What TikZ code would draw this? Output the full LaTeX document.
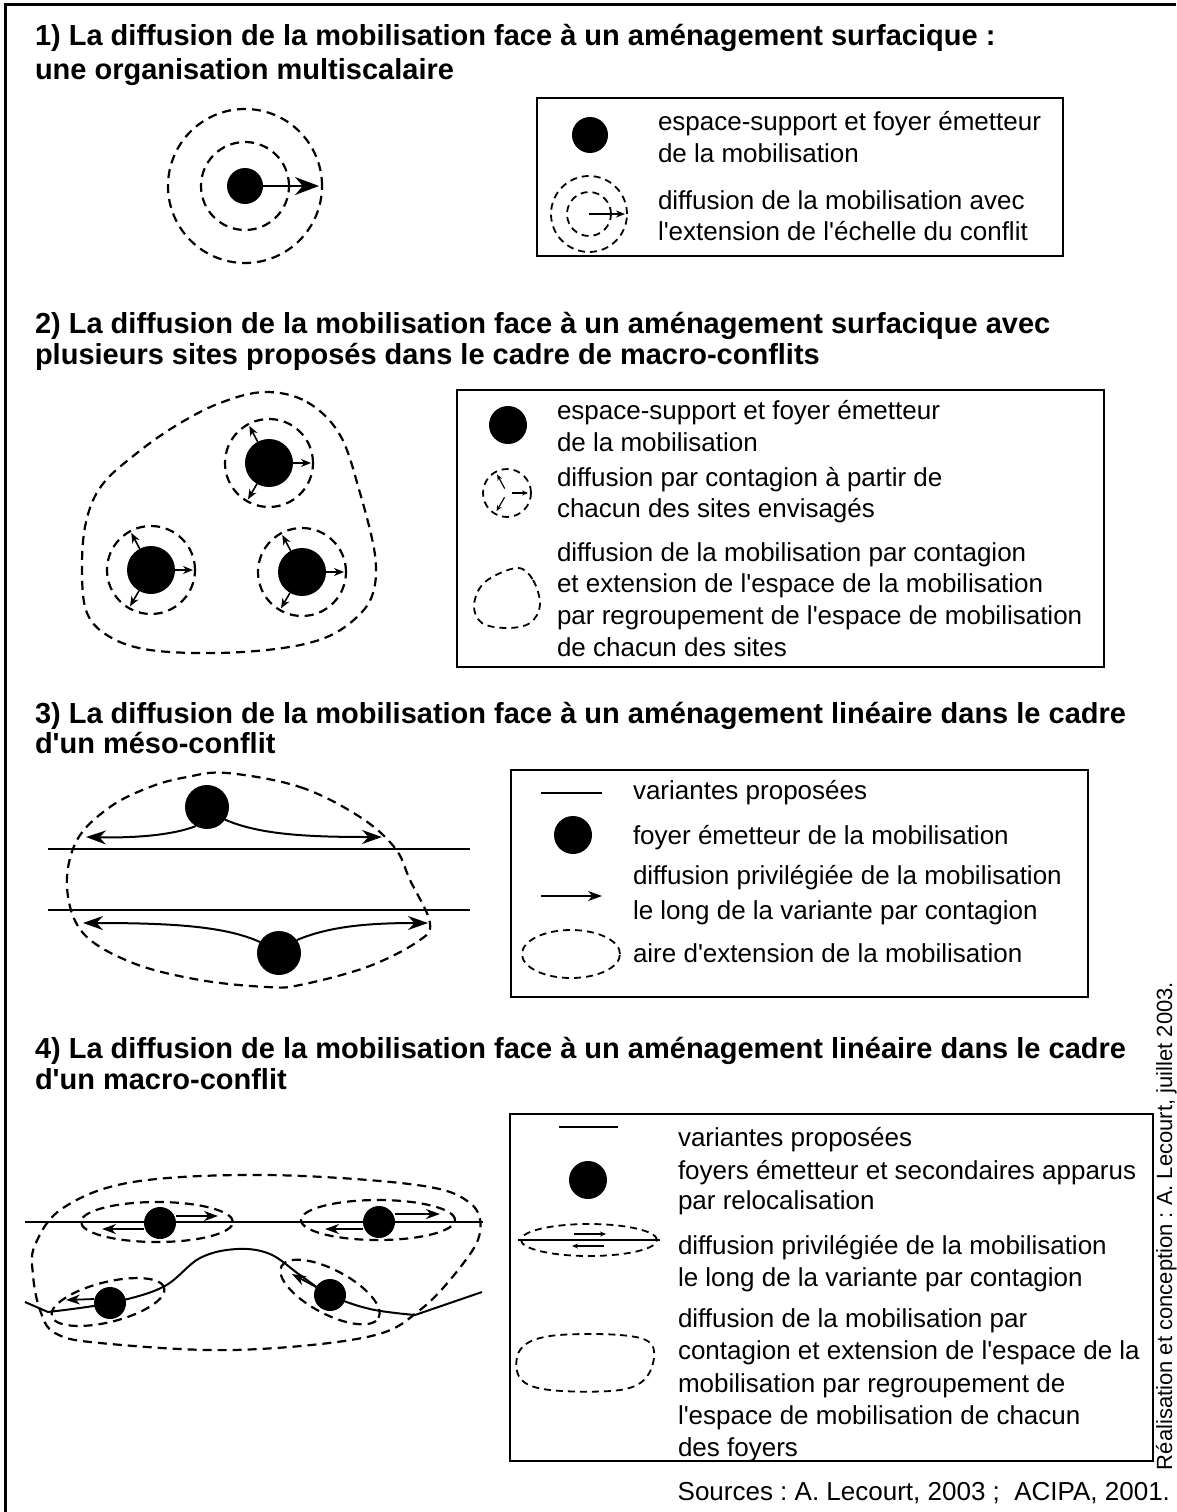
\documentclass[tikz,border=0pt]{standalone}
\usepackage{fontspec}
\setmainfont{Liberation Sans}[Ligatures=TeXOff]
\usetikzlibrary{arrows.meta}
\begin{document}
\frenchspacing
\begin{tikzpicture}[x=1pt,y=-1pt,
  every node/.style={inner sep=0pt, outer sep=0pt},
  ttl/.style={anchor=base west, font=\fontsize{29}{31}\selectfont\bfseries},
  txt/.style={anchor=base west, font=\fontsize{26}{31}\selectfont},
  dsh/.style={line width=2.2pt, dash pattern=on 9pt off 6pt},
  dshs/.style={line width=1.8pt, dash pattern=on 7pt off 5pt},
  solidln/.style={line width=2pt},
  lgbox/.style={line width=2pt},
  dotn/.style={circle, fill=black, minimum size=#1},
  ringn/.style={circle, draw, dsh, minimum size=#1},
  rings/.style={circle, draw, dshs, minimum size=#1},
  bigtip/.style={-{Stealth[length=20pt,width=14pt]}},
  midtip/.style={-{Stealth[length=14pt,width=10pt]}},
  smalltip/.style={-{Stealth[length=10pt,width=8pt]}},
  tinytip/.style={-{Stealth[length=6pt,width=5pt]}}
]
\useasboundingbox (0,0) rectangle (1176,1512);
% outer frame
\draw[line width=3pt] (5,1512) -- (5,5) -- (1176,5);

% ---------------- Section 1 ----------------
\node[ttl] (t1a) at (35,46) {1) La diffusion de la mobilisation face à un aménagement surfacique :};
\node[ttl] (t1b) at (35,79) {une organisation multiscalaire};
\node[ringn=154pt] (c1o) at (245,186) {};
\node[ringn=88pt] (c1i) at (245,186) {};
\node[dotn=36pt] (f1) at (245,186) {};
\draw[solidln,-{Stealth[length=24pt,width=18pt]}] (f1.east) -- ([xshift=-3pt]c1o.east);

\draw[lgbox] (537,98) rectangle (1063,256);
\node[dotn=36pt] (l1d) at (590,135) {};
\node[txt] (l1a) at (658,130) {espace-support et foyer émetteur};
\node[txt] (l1b) at (658,162) {de la mobilisation};
\node[rings=76pt] (l1o) at (589,214) {};
\node[rings=44pt] (l1i) at (589,214) {};
\draw[line width=1.6pt,-{Stealth[length=9pt,width=7pt]}] (l1o.center) -- ([xshift=-2pt]l1o.east);
\node[txt] (l1c) at (658,209) {diffusion de la mobilisation avec};
\node[txt] (l1e) at (658,240) {l'extension de l'échelle du conflit};

% ---------------- Section 2 ----------------
\node[ttl] (t2a) at (35,333) {2) La diffusion de la mobilisation face à un aménagement surfacique avec};
\node[ttl] (t2b) at (35,364) {plusieurs sites proposés dans le cadre de macro-conflits};
\draw[dsh] plot[smooth cycle, tension=0.6] coordinates {(265,392) (307,402) (340,435) (360,493) (375,555) (373,593) (357,617) (327,637) (283,648) (217,653) (150,650) (110,637) (87,613) (82,570) (86,522) (102,485) (137,453) (177,425) (220,403)};
\node[ringn=88pt] (r1) at (269,463) {};
\node[ringn=88pt] (r2) at (151,570) {};
\node[ringn=88pt] (r3) at (302,572) {};
\node[dotn=48pt] (s1) at (269,463) {};
\node[dotn=48pt] (s2) at (151,570) {};
\node[dotn=48pt] (s3) at (302,572) {};
\foreach \i in {1,2,3}{
  \foreach \a in {0,118,240}{
    \draw[line width=1.6pt, smalltip] (s\i.\a) -- ([shift={(\a:-2pt)}]r\i.\a);
  }
}

\draw[lgbox] (457,390) rectangle (1104,667);
\node[dotn=38pt] (l2d) at (508,425) {};
\node[txt] (l2a) at (557,419) {espace-support et foyer émetteur};
\node[txt] (l2b) at (557,451) {de la mobilisation};
\node[rings=48pt] (l2r) at (507,493) {};
\node[circle, minimum size=10pt] (l2c) at (507,493) {};
\foreach \a in {0,118,240}{
  \draw[line width=1.2pt, tinytip] (l2c.\a) -- ([shift={(\a:-3pt)}]l2r.\a);
}
\node[txt] (l2e) at (557,486) {diffusion par contagion à partir de};
\node[txt] (l2f) at (557,517) {chacun des sites envisagés};
\draw[dshs] plot[smooth cycle, tension=0.6] coordinates {(517,568) (533,580) (540,605) (530,623) (507,628) (482,623) (474,605) (485,582)};
\node[txt] (l2g) at (557,561) {diffusion de la mobilisation par contagion};
\node[txt] (l2h) at (557,592) {et extension de l'espace de la mobilisation};
\node[txt] (l2i) at (557,624) {par regroupement de l'espace de mobilisation};
\node[txt] (l2j) at (557,656) {de chacun des sites};

% ---------------- Section 3 ----------------
\node[ttl] (t3a) at (35,723) {3) La diffusion de la mobilisation face à un aménagement linéaire dans le cadre};
\node[ttl] (t3b) at (35,753) {d'un méso-conflit};
\draw[dsh] plot[smooth cycle, tension=0.6] coordinates {(227,773) (300,787) (360,817) (395,848) (410,880) (430,923) (417,942) (367,967) (300,985) (267,987) (200,980) (133,963) (83,933) (67,887) (77,840) (110,807) (150,787) (187,777)};
\coordinate (v1w) at (48,849); \coordinate (v1e) at (470,849);
\coordinate (v2w) at (48,910); \coordinate (v2e) at (470,910);
\draw[solidln] (v1w) -- (v1e);
\draw[solidln] (v2w) -- (v2e);
\node[dotn=44pt] (f3a) at (207,807) {};
\node[dotn=44pt] (f3b) at (279,953) {};
\coordinate (e3a) at (86,837); \coordinate (e3b) at (382,837);
\coordinate (e3c) at (83,923); \coordinate (e3d) at (428,923);
\draw[solidln,bigtip] (f3a.-120) .. controls (170,836) and (130,838) .. (e3a);
\draw[solidln,bigtip] (f3a.-35) .. controls (260,835) and (310,837) .. (e3b);
\draw[solidln,bigtip] (f3b.150) .. controls (225,926) and (170,923) .. (e3c);
\draw[solidln,bigtip] (f3b.36) .. controls (330,926) and (370,923) .. (e3d);

\draw[lgbox] (511,770) rectangle (1088,997);
\coordinate (l3lw) at (541,793); \coordinate (l3le) at (602,793);
\draw[solidln] (l3lw) -- (l3le);
\node[txt] (l3a) at (633,799) {variantes proposées};
\node[dotn=38pt] (l3d) at (573,835) {};
\node[txt] (l3b) at (633,844) {foyer émetteur de la mobilisation};
\coordinate (l3aw) at (541,896); \coordinate (l3ae) at (602,896);
\draw[solidln,midtip] (l3aw) -- (l3ae);
\node[txt] (l3c) at (633,884) {diffusion privilégiée de la mobilisation};
\node[txt] (l3e) at (633,919) {le long de la variante par contagion};
\draw[dshs] (571,954) ellipse [x radius=49pt, y radius=24pt];
\node[txt] (l3f) at (633,962) {aire d'extension de la mobilisation};

% ---------------- Section 4 ----------------
\node[ttl] (t4a) at (35,1058) {4) La diffusion de la mobilisation face à un aménagement linéaire dans le cadre};
\node[ttl] (t4b) at (35,1089) {d'un macro-conflit};
\draw[dsh] plot[smooth cycle, tension=0.6] coordinates {(63,1208) (133,1182) (267,1175) (417,1185) (470,1203) (480,1232) (462,1265) (420,1310) (367,1337) (233,1350) (100,1343) (55,1333) (40,1310) (33,1275) (35,1245)};
\draw[dsh] (157,1222) ellipse [x radius=76pt, y radius=20pt];
\draw[dsh] (378,1220) ellipse [x radius=77pt, y radius=20pt];
\draw[dsh, rotate around={14:(108,1302)}] (108,1302) ellipse [x radius=58pt, y radius=20pt];
\draw[dsh, rotate around={-28:(330,1292)}] (330,1292) ellipse [x radius=55pt, y radius=22pt];
\coordinate (v3w) at (25,1222); \coordinate (v3e) at (483,1222);
\draw[solidln] (v3w) -- (v3e);
\draw[solidln] (25,1302) -- (48,1312) plot[smooth, tension=0.6] coordinates {(48,1312) (110,1303) (163,1287) (200,1258) (237,1249) (270,1254) (300,1275) (330,1295) (370,1309) (415,1315)} -- (482,1292);
\node[dotn=32pt] (f4a) at (160,1223) {};
\node[dotn=32pt] (f4b) at (379,1222) {};
\node[dotn=32pt] (f4c) at (110,1303) {};
\node[dotn=32pt] (f4d) at (330,1295) {};
\draw[line width=1.8pt,midtip] ([yshift=7pt]f4a.east) -- ++(42,0);
\draw[line width=1.8pt,midtip] ([yshift=-6pt]f4a.west) -- ++(-42,0);
\draw[line width=1.8pt,midtip] ([yshift=8pt]f4b.east) -- ++(45,0);
\draw[line width=1.8pt,midtip] ([yshift=-7pt]f4b.west) -- ++(-38,0);
\coordinate (e4c) at (66,1300);
\coordinate (e4d) at (292,1274);
\draw[line width=1.8pt,midtip] ([yshift=4pt]f4c.west) -- (e4c);
\draw[line width=1.8pt,midtip] (f4d.150) -- (e4d);

\draw[lgbox] (510,1114) rectangle (1153,1461);
\coordinate (l4lw) at (559,1127); \coordinate (l4le) at (618,1127);
\draw[solidln] (l4lw) -- (l4le);
\node[txt] (l4a) at (678,1146) {variantes proposées};
\node[dotn=38pt] (l4d) at (588,1180) {};
\node[txt] (l4b) at (678,1179) {foyers émetteur et secondaires apparus};
\node[txt] (l4c) at (678,1209) {par relocalisation};
\coordinate (l4mw) at (518,1240); \coordinate (l4me) at (660,1240);
\draw[line width=1.6pt] (l4mw) -- (l4me);
\draw[dshs] (589,1240) ellipse [x radius=68pt, y radius=16pt];
\draw[line width=1.5pt,tinytip] (574,1234) -- (606,1234);
\draw[line width=1.5pt,tinytip] (604,1246) -- (572,1246);
\node[txt] (l4e) at (678,1254) {diffusion privilégiée de la mobilisation};
\node[txt] (l4f) at (678,1286) {le long de la variante par contagion};
\draw[dshs] plot[smooth cycle, tension=0.6] coordinates {(550,1336) (620,1335) (652,1345) (648,1375) (620,1390) (550,1390) (520,1378) (520,1350)};
\node[txt] (l4g) at (678,1327) {diffusion de la mobilisation par};
\node[txt] (l4h) at (678,1359) {contagion et extension de l'espace de la};
\node[txt] (l4i) at (678,1392) {mobilisation par regroupement de};
\node[txt] (l4j) at (678,1424) {l'espace de mobilisation de chacun};
\node[txt] (l4k) at (678,1456) {des foyers};

% sources and credits
\node[anchor=base east, font=\fontsize{26}{31}\selectfont] (src) at (1170,1500) {Sources : A. Lecourt, 2003 ;\ \ ACIPA, 2001.};
\node[anchor=base west, rotate=90, font=\fontsize{22}{26}\selectfont] (cred) at (1172,1470) {Réalisation et conception : A. Lecourt, juillet 2003.};
\end{tikzpicture}
\end{document}
